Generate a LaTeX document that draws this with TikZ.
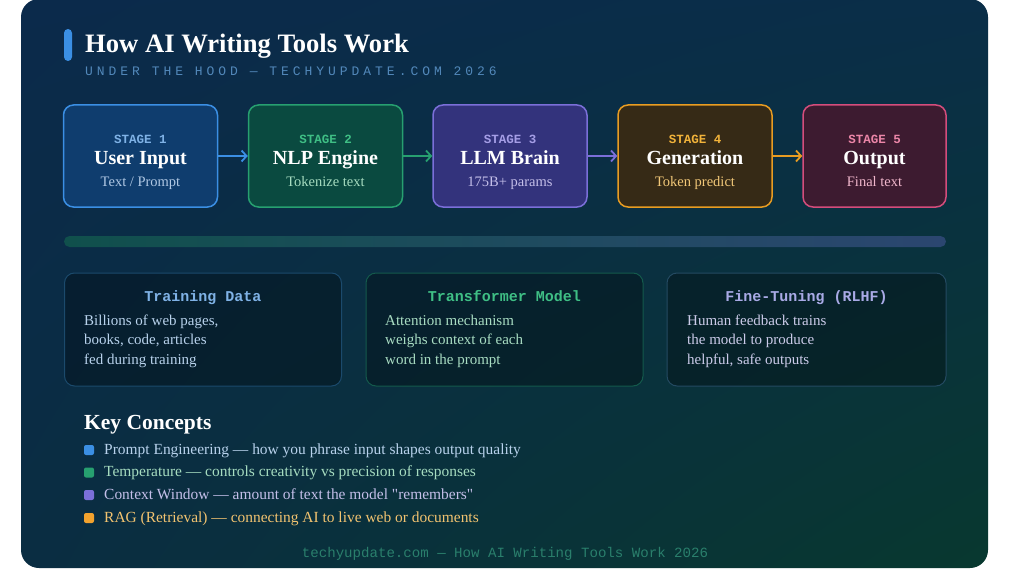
\documentclass[tikz,border=0pt]{standalone}
\usepackage{fontspec}
\setmainfont{Liberation Serif}[Ligatures=TeXOff]
\setmonofont{Liberation Mono}
\newfontfamily\spacedmono[LetterSpace=30.5]{Liberation Mono}
\usetikzlibrary{arrows.meta,shadings}
\definecolor{pTL}{HTML}{0B2A4B}
\definecolor{pTR}{HTML}{0A2E48}
\definecolor{pBL}{HTML}{0A2D42}
\definecolor{pBR}{HTML}{08382F}
\definecolor{accent}{HTML}{3B8FE4}
\definecolor{subt}{HTML}{5288BA}
\definecolor{sAf}{HTML}{0F3D6E}\definecolor{sAd}{HTML}{3B8FE4}\definecolor{sAl}{HTML}{7FB2E6}\definecolor{sAs}{HTML}{B0C8E4}
\definecolor{sBf}{HTML}{0A4A40}\definecolor{sBd}{HTML}{27A070}\definecolor{sBl}{HTML}{3FBF85}\definecolor{sBs}{HTML}{A6DCC0}
\definecolor{sCf}{HTML}{33337C}\definecolor{sCd}{HTML}{7B6FD9}\definecolor{sCl}{HTML}{A59EE6}\definecolor{sCs}{HTML}{C4BFE9}
\definecolor{sDf}{HTML}{362A16}\definecolor{sDd}{HTML}{E89C22}\definecolor{sDl}{HTML}{F2B33A}\definecolor{sDs}{HTML}{F2C878}
\definecolor{sEf}{HTML}{3D1B30}\definecolor{sEd}{HTML}{D44D7C}\definecolor{sEl}{HTML}{EC86A8}\definecolor{sEs}{HTML}{F0B6CB}
\definecolor{barL}{HTML}{10504C}
\definecolor{barR}{HTML}{2B4670}
\definecolor{iAd}{HTML}{1B4A6C}\definecolor{iAh}{HTML}{7FB2E6}\definecolor{iAb}{HTML}{B8D2EC}
\definecolor{iBd}{HTML}{145A4C}\definecolor{iBh}{HTML}{3FBF85}\definecolor{iBb}{HTML}{A8DCC2}
\definecolor{iCd}{HTML}{244A62}\definecolor{iCh}{HTML}{A9AAE6}\definecolor{iCb}{HTML}{CBCBE9}
\definecolor{kA}{HTML}{B8D2EC}\definecolor{kB}{HTML}{A6DCC0}\definecolor{kC}{HTML}{C4BFE9}\definecolor{kD}{HTML}{F2C370}
\definecolor{bD}{HTML}{F2A22E}
\definecolor{foot}{HTML}{2A7F6C}
\begin{document}
\begin{tikzpicture}[x=1pt,y=-1pt,
  stagebox/.style={draw, line width=1.5pt, rounded corners=10pt, minimum width=154pt, minimum height=102pt, inner sep=0pt},
  stagelbl/.style={anchor=base, inner sep=0pt, font=\ttfamily\bfseries\fontsize{12.5}{14}\selectfont},
  stagetitle/.style={anchor=base, inner sep=0pt, text=white, font=\bfseries\fontsize{20}{24}\selectfont},
  stagesub/.style={anchor=base, inner sep=0pt, font=\fontsize{14.5}{17}\selectfont},
  flow/.style={line width=1.8pt, -{Straight Barb[length=5pt,width=11pt,line width=1.8pt]}},
  infobox/.style={draw, line width=1pt, rounded corners=10pt, minimum width=277pt, minimum height=113pt, inner sep=0pt, fill=black, fill opacity=0.3},
  infohead/.style={anchor=base, inner sep=0pt, font=\ttfamily\bfseries\fontsize{15}{18}\selectfont},
  infoline/.style={anchor=base west, inner sep=0pt, font=\fontsize{15}{18}\selectfont},
  bulletsq/.style={minimum size=10pt, inner sep=0pt, rounded corners=2pt},
  keyline/.style={anchor=base west, inner sep=0pt, font=\fontsize{15.45}{18}\selectfont},
]
\useasboundingbox (0,0) rectangle (1024,583);
\fill[white] (0,0) rectangle (1024,583);
\shade[rounded corners=18pt, upper left=pTL, upper right=pTR, lower left=pBL, lower right=pBR] (21,-1) rectangle (988,568);

% title
\node[fill=accent, rounded corners=4pt, minimum width=8pt, minimum height=32pt, inner sep=0pt] (acc) at (68,45) {};
\node[anchor=base west, inner sep=0pt, text=white, font=\bfseries\fontsize{26.6}{30}\selectfont] (title) at (85,52.7) {How AI Writing Tools Work};
\node[anchor=base west, inner sep=0pt, text=subt, font=\spacedmono\fontsize{13}{15}\selectfont] (subtitle) at (85,76) {UNDER THE HOOD — TECHYUPDATE.COM 2026};

% stages
\node[stagebox, draw=sAd, fill=sAf] (s1) at (140.5,156) {};
\node[stagebox, draw=sBd, fill=sBf] (s2) at (325.5,156) {};
\node[stagebox, draw=sCd, fill=sCf] (s3) at (510,156) {};
\node[stagebox, draw=sDd, fill=sDf] (s4) at (695,156) {};
\node[stagebox, draw=sEd, fill=sEf, minimum width=143pt] (s5) at (874.5,156) {};

\node[stagelbl, text=sAl] (s1a) at (140.5,143) {STAGE 1};
\node[stagetitle] (s1b) at (140.5,164) {User Input};
\node[stagesub, text=sAs] (s1c) at (140.5,186) {Text / Prompt};
\node[stagelbl, text=sBl] (s2a) at (325.5,143) {STAGE 2};
\node[stagetitle] (s2b) at (325.5,164) {NLP Engine};
\node[stagesub, text=sBs] (s2c) at (325.5,186) {Tokenize text};
\node[stagelbl, text=sCl] (s3a) at (510,143) {STAGE 3};
\node[stagetitle] (s3b) at (510,164) {LLM Brain};
\node[stagesub, text=sCs] (s3c) at (510,186) {175B+ params};
\node[stagelbl, text=sDl] (s4a) at (695,143) {STAGE 4};
\node[stagetitle] (s4b) at (695,164) {Generation};
\node[stagesub, text=sDs] (s4c) at (695,186) {Token predict};
\node[stagelbl, text=sEl] (s5a) at (874.5,143) {STAGE 5};
\node[stagetitle] (s5b) at (874.5,164) {Output};
\node[stagesub, text=sEs] (s5c) at (874.5,186) {Final text};

\draw[flow, draw=sAd] (s1.east) -- (s2.west);
\draw[flow, draw=sBd] (s2.east) -- (s3.west);
\draw[flow, draw=sCd] (s3.east) -- (s4.west);
\draw[flow, draw=sDd] (s4.east) -- (s5.west);

% bar
\shade[left color=barL, right color=barR, rounded corners=5.5pt] (64,236) rectangle (946,247);

% info boxes
\node[infobox, draw=iAd] (i1) at (203,329.5) {};
\node[infobox, draw=iBd] (i2) at (504.5,329.5) {};
\node[infobox, draw=iCd, minimum width=279pt] (i3) at (806.5,329.5) {};
\node[infohead, text=iAh] (i1h) at (203,301) {Training Data};
\node[infohead, text=iBh] (i2h) at (504.5,301) {Transformer Model};
\node[infohead, text=iCh] (i3h) at (806.5,301) {Fine-Tuning (RLHF)};
\node[infoline, text=iAb] (i1l1) at (84,325) {Billions of web pages,};
\node[infoline, text=iAb] (i1l2) at (84,344.5) {books, code, articles};
\node[infoline, text=iAb] (i1l3) at (84,364) {fed during training};
\node[infoline, text=iBb] (i2l1) at (385,325) {Attention mechanism};
\node[infoline, text=iBb] (i2l2) at (385,344.5) {weighs context of each};
\node[infoline, text=iBb] (i2l3) at (385,364) {word in the prompt};
\node[infoline, text=iCb] (i3l1) at (687,325) {Human feedback trains};
\node[infoline, text=iCb] (i3l2) at (687,344.5) {the model to produce};
\node[infoline, text=iCb] (i3l3) at (687,364) {helpful, safe outputs};

% key concepts
\node[anchor=base west, inner sep=0pt, text=white, font=\bfseries\fontsize{21.5}{25}\selectfont] (kc) at (84,429) {Key Concepts};
\node[bulletsq, fill=accent] (b1) at (89,450) {};
\node[bulletsq, fill=sBd] (b2) at (89,472.5) {};
\node[bulletsq, fill=sCd] (b3) at (89,495) {};
\node[bulletsq, fill=bD] (b4) at (89,518) {};
\node[keyline, text=kA] (k1) at (104,454) {Prompt Engineering — how you phrase input shapes output quality};
\node[keyline, text=kB] (k2) at (104,476.5) {Temperature — controls creativity vs precision of responses};
\node[keyline, text=kC] (k3) at (104,499) {Context Window — amount of text the model "remembers"};
\node[keyline, text=kD] (k4) at (104,522) {RAG (Retrieval) — connecting AI to live web or documents};

% footer
\node[anchor=base, inner sep=0pt, text=foot, font=\ttfamily\fontsize{14.1}{16}\selectfont] (ft) at (505,557) {techyupdate.com — How AI Writing Tools Work 2026};
\end{tikzpicture}
\end{document}
